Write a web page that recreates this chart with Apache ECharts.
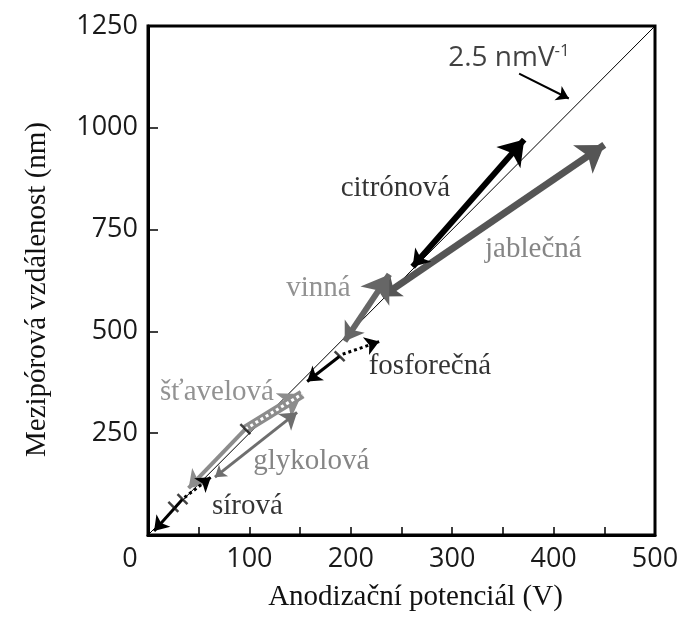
<!DOCTYPE html>
<html>
<head>
<meta charset="utf-8">
<script src="https://cdn.jsdelivr.net/npm/echarts@6/dist/echarts.min.js"></script>
<style>html,body{margin:0;padding:0;background:#fff}#c{width:683px;height:617px}</style>
</head>
<body>
<div id="c"></div>
<script>
// ---- data ----
const xTickLabels = [0, 100, 200, 300, 400, 500];
const yTickLabels = [250, 500, 750, 1000, 1250];
const diagonal = [[0, 0], [500, 1250]];           // 2.5 nm/V
const citronova = [[261, 659], [371, 971]];
const jablecna = [[231, 586], [450, 958]];
const vinna = [[194, 476], [238, 640]];
const fosforecnaSolid = [[189, 439], [157, 377]];
const fosforecnaDotted = [[192, 444], [228, 475]];
const stavelovaSolid = [[96, 260], [40, 115]];
const stavelovaHollow = [[96, 260], [152, 346]];
const glykolova = [[66, 142], [147, 301]];
const sirovaSolid = [[34, 88], [6, 10]];
const sirovaDotted = [[36, 92], [62, 142]];
const tickMarks = [[189, 439], [96, 260], [25, 69], [34, 88]];
const slopeNote = [[366, 1133], [415, 1072]];
const labelNames = ['citrónová', 'jablečná', 'vinná', 'fosforečná', 'šťavelová', 'glykolová', 'sírová'];
const labelPos = [[244, 850], [380, 701], [168, 605], [278, 414], [68, 351], [161, 181], [98, 71]];
const labelColors = ['#000', '#666', '#777', '#000', '#777', '#666', '#000'];
const slopeText = '2.5 nmV';
const slopeSup = '-1';
const slopeTextPos = [356, 1171];

// ---- chart ----
const chart = echarts.init(document.getElementById('c'));
const serif = '"Liberation Serif", "Times New Roman", serif';
const sans = '"Open Sans", "DejaVu Sans", sans-serif';

function arrowLine(coords, color, width, symbols, size, type) {
  return {
    type: 'lines', coordinateSystem: 'cartesian2d', z: 3,
    symbol: symbols, symbolSize: size,
    lineStyle: { color: color, width: width, type: type || 'solid', opacity: 1 },
    data: [{ coords: coords }]
  };
}

chart.setOption({
  animation: false,
  grid: { left: 148, right: 28, top: 26, bottom: 81, show: true, borderColor: '#000', borderWidth: 3 },
  xAxis: {
    type: 'value', min: 0, max: 500, interval: 50,
    name: 'Anodizační potenciál (V)', nameLocation: 'middle', nameGap: 48,
    nameTextStyle: { fontFamily: serif, fontSize: 29, color: '#111', padding: [0, 0, 0, 28] },
    axisLine: { show: true, lineStyle: { color: '#000', width: 3 } },
    axisTick: { show: true, inside: true, length: 8, lineStyle: { color: '#000', width: 1.5 } },
    splitLine: { show: false },
    axisLabel: {
      margin: 11, fontFamily: sans, fontSize: 27, color: '#1a1a1a',
      formatter: v => v === 0 ? '{z|0}' : (xTickLabels.indexOf(v) >= 0 ? String(v) : ''),
      rich: { z: { fontFamily: sans, fontSize: 27, color: '#1a1a1a', padding: [0, 36, 0, 0] } }
    }
  },
  yAxis: {
    type: 'value', min: 0, max: 1250, interval: 250,
    name: 'Mezipórová vzdálenost (nm)', nameLocation: 'middle', nameGap: 96,
    nameTextStyle: { fontFamily: serif, fontSize: 29, color: '#111', padding: [0, 18, 0, 0] },
    axisLine: { show: true, lineStyle: { color: '#000', width: 3 } },
    axisTick: { show: true, inside: true, length: 10, lineStyle: { color: '#000', width: 1.5 } },
    splitLine: { show: false },
    axisLabel: {
      margin: 10, fontFamily: sans, fontSize: 27, color: '#1a1a1a',
      formatter: v => yTickLabels.indexOf(v) >= 0 ? String(v) : ''
    }
  },
  series: [
    { type: 'line', data: diagonal, symbol: 'none', lineStyle: { color: '#000', width: 1 }, z: 2 },
    arrowLine(slopeNote, '#000', 2, ['none', 'arrow'], [9, 12]),
    arrowLine(jablecna, '#555', 7, ['arrow', 'arrow'], [18, 26]),
    arrowLine(citronova, '#000', 6, ['arrow', 'arrow'], [16, 24]),
    arrowLine(vinna, '#666', 6, ['arrow', 'arrow'], [18, 26]),
    arrowLine(fosforecnaSolid, '#000', 3, ['none', 'arrow'], [10, 14]),
    arrowLine(fosforecnaDotted, '#000', 3, ['none', 'arrow'], [10, 14], 'dotted'),
    arrowLine(stavelovaSolid, '#8c8c8c', 4, ['none', 'arrow'], [12, 17]),
    arrowLine(stavelovaHollow, '#8c8c8c', 9, ['none', 'arrow'], [16, 22]),
    arrowLine(stavelovaHollow, '#fff', 3, ['none', 'none'], 1, 'dotted'),
    arrowLine(glykolova, '#6e6e6e', 3, ['arrow', 'arrow'], [11, 16]),
    arrowLine(sirovaSolid, '#000', 3, ['none', 'arrow'], [10, 14]),
    arrowLine(sirovaDotted, '#000', 3, ['none', 'arrow'], [10, 14], 'dotted'),
    {
      type: 'scatter', data: tickMarks, symbol: 'rect', symbolSize: [2.5, 14], symbolRotate: 45,
      itemStyle: { color: '#111' }, z: 4
    },
    {
      type: 'scatter', z: 5, symbolSize: 0,
      data: labelPos.map((p, i) => ({
        value: p,
        label: { show: true, position: 'inside', formatter: labelNames[i], color: labelColors[i],
                 fontFamily: serif, fontSize: 29 }
      }))
    },
    {
      type: 'scatter', z: 5, symbolSize: 0,
      data: [{
        value: slopeTextPos,
        label: { show: true, position: 'inside', formatter: slopeText + '{s|' + slopeSup + '}',
                 fontFamily: sans, fontSize: 28, color: '#111',
                 rich: { s: { fontFamily: sans, fontSize: 17, color: '#111', verticalAlign: 'top', padding: [0, 0, 14, 0] } } }
      }]
    }
  ]
});
</script>
</body>
</html>
